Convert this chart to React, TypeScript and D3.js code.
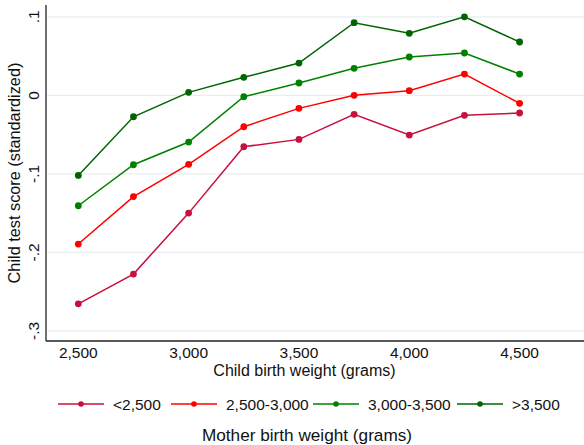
import React from "react";
import * as d3 from "d3";

const childWeights = [2500, 2750, 3000, 3250, 3500, 3750, 4000, 4250, 4500];
const seriesNames = ["<2,500", "2,500-3,000", "3,000-3,500", ">3,500"];
const seriesColors = ["#c8103c", "#ff0000", "#008000", "#006400"];
const under2500 = [-0.2655, -0.2276, -0.150, -0.0655, -0.0561, -0.0242, -0.0506, -0.0255, -0.0225];
const from2500to3000 = [-0.1894, -0.129, -0.0879, -0.040, -0.0166, 0.0, 0.0059, 0.0271, -0.0102];
const from3000to3500 = [-0.1406, -0.0884, -0.0595, -0.0018, 0.0157, 0.0344, 0.0488, 0.0539, 0.0271];
const over3500 = [-0.102, -0.0273, 0.0038, 0.0229, 0.0411, 0.0925, 0.079, 0.100, 0.0679];
const seriesValues = [under2500, from2500to3000, from3000to3500, over3500];
const xTicks = [2500, 3000, 3500, 4000, 4500];
const yTicks = [0.1, 0, -0.1, -0.2, -0.3];
const yTickLabels = [".1", "0", "-.1", "-.2", "-.3"];

const W = 584;
const H = 445;
const left = 46;
const right = 584;
const top = 5;
const bottom = 341;
const font = "'Liberation Sans', Arial, sans-serif";

export default function App() {
  const x = d3.scaleLinear().domain([2500, 4500]).range([78.3, 519.6]);
  const y = d3.scaleLinear().domain([0.1, -0.3]).range([16.8, 330.9]);
  const line = d3
    .line<number>()
    .x((_, i) => x(childWeights[i]))
    .y((d) => y(d));
  const fmt = d3.format(",");

  const legendLines = [58, 171, 313, 457];

  return (
    <svg
      width={W}
      height={H}
      style={{ position: "absolute", left: 0, top: 0, background: "#fff" }}
      fontFamily={font}
    >
      <rect x={0} y={0} width={W} height={H} fill="#fff" />
      {yTicks.map((t) => (
        <line key={t} x1={left + 1} x2={right} y1={y(t)} y2={y(t)} stroke="#e9eff1" strokeWidth={1.2} />
      ))}
      <line x1={left} x2={left} y1={top} y2={bottom} stroke="#222" strokeWidth={1.3} />
      <line x1={left} x2={right} y1={bottom} y2={bottom} stroke="#222" strokeWidth={1.3} />
      {yTicks.map((t, i) => (
        <text
          key={t}
          transform={`translate(38.5,${y(t)}) rotate(-90)`}
          textAnchor="middle"
          fontSize={15.5}
          fill="#111"
        >
          {yTickLabels[i]}
        </text>
      ))}
      {xTicks.map((t) => (
        <text key={t} x={x(t)} y={358} textAnchor="middle" fontSize={15.5} fill="#111">
          {fmt(t)}
        </text>
      ))}
      <text x={304.5} y={376} textAnchor="middle" fontSize={16} fill="#111">
        Child birth weight (grams)
      </text>
      <text
        transform={`translate(20,173) rotate(-90)`}
        textAnchor="middle"
        fontSize={16.3}
        fill="#111"
      >
        Child test score (standardized)
      </text>
      {seriesValues.map((vals, s) => (
        <g key={s}>
          <path d={line(vals) || ""} fill="none" stroke={seriesColors[s]} strokeWidth={1.5} />
          {vals.map((v, i) => (
            <circle key={i} cx={x(childWeights[i])} cy={y(v)} r={3.4} fill={seriesColors[s]} />
          ))}
        </g>
      ))}
      {seriesNames.map((n, s) => (
        <g key={n}>
          <line
            x1={legendLines[s]}
            x2={legendLines[s] + 46}
            y1={404}
            y2={404}
            stroke={seriesColors[s]}
            strokeWidth={1.5}
          />
          <circle cx={legendLines[s] + 23} cy={404} r={2.8} fill={seriesColors[s]} />
          <text x={legendLines[s] + 55} y={409.5} fontSize={15.5} fill="#111">
            {n}
          </text>
        </g>
      ))}
      <text x={307} y={441} textAnchor="middle" fontSize={17.2} fill="#111">
        Mother birth weight (grams)
      </text>
    </svg>
  );
}
